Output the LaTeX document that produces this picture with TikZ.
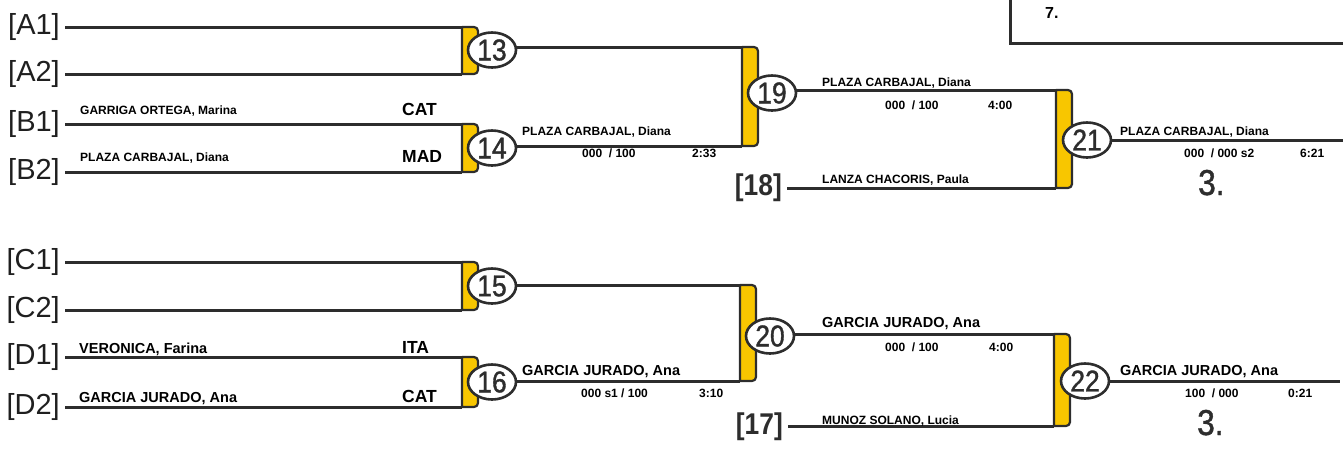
\documentclass[tikz,border=0pt]{standalone}
\usepackage{fontspec}
\setmainfont{Liberation Sans}
\newfontfamily\condfont[FakeStretch=0.88]{Liberation Sans}
\newfontfamily\numfont[FakeStretch=0.88, FakeBold=1.2]{Liberation Sans}
\usetikzlibrary{shapes.geometric}
\definecolor{dk}{RGB}{45,45,45}
\definecolor{yel}{RGB}{248,198,0}
\tikzset{
 ln/.style={draw=dk, line width=3},
 bk/.style={draw=dk, fill=yel, line width=2.2, line join=round},
 num/.style={ellipse, draw=dk, fill=white, line width=2.6, minimum width=48, minimum height=35, inner sep=0, font=\numfont\fontsize{30}{30}\selectfont, text=dk},
 lbl/.style={anchor=east, inner sep=0, font=\fontsize{29}{29}\selectfont, text=black!88},
 seed/.style={anchor=east, inner sep=0, font=\condfont\bfseries\fontsize{30}{30}\selectfont, text=dk},
 nm/.style={anchor=base west, inner sep=0, font=\bfseries\fontsize{12}{12}\selectfont},
 nmb/.style={anchor=base west, inner sep=0, font=\bfseries\fontsize{14.5}{14.5}\selectfont},
 ctry/.style={anchor=base west, inner sep=0, font=\bfseries\fontsize{17.5}{17.5}\selectfont},
 sc/.style={anchor=base west, inner sep=0, font=\bfseries\fontsize{12}{12}\selectfont},
 rk/.style={anchor=base west, inner sep=0, font=\numfont\fontsize{36}{36}\selectfont, text=dk},
}
\newcommand\drawbracket[4]{%
 \coordinate (#1t) at (#2,#3);
 \coordinate (#1b) at (#2,#4);
 \draw[bk] (#2,#3) -- ({#2+12},#3) arc[start angle=-90, end angle=0, radius=4] -- ({#2+16},{#4-4}) arc[start angle=0, end angle=90, radius=4] -- (#2,#4) -- cycle;}
\begin{document}
\begin{tikzpicture}[x=1pt,y=-1pt]
\useasboundingbox (0,0) rectangle (1343,450);
% top-right box
\coordinate (boxa) at (1010,0);
\coordinate (boxb) at (1010,43);
\coordinate (boxc) at (1343,43);
\draw[ln] (boxa) -- (boxb) -- (boxc);
\node[anchor=base west, inner sep=0, font=\bfseries\fontsize{16}{16}\selectfont] (seven) at (1045,18) {7.};

% labels
\node[lbl] (A1) at (60,27) {[A1]};
\node[lbl] (A2) at (60,74) {[A2]};
\node[lbl] (B1) at (60,124) {[B1]};
\node[lbl] (B2) at (60,172) {[B2]};
\node[lbl] (C1) at (60,262) {[C1]};
\node[lbl] (C2) at (60,310) {[C2]};
\node[lbl] (D1) at (60,357) {[D1]};
\node[lbl] (D2) at (60,407) {[D2]};
\node[seed] (S18) at (782,188) {[18]};
\node[seed] (S17) at (783,427) {[17]};

% bracket coordinates
\coordinate (b13t) at (462,27); \coordinate (b13b) at (462,74);
\coordinate (b14t) at (462,124); \coordinate (b14b) at (462,172);
\coordinate (b15t) at (462,262); \coordinate (b15b) at (462,310);
\coordinate (b16t) at (462,357); \coordinate (b16b) at (462,407);
\coordinate (b19t) at (742,47); \coordinate (b19b) at (742,146);
\coordinate (b20t) at (740,285); \coordinate (b20b) at (740,381);
\coordinate (b21t) at (1056,90); \coordinate (b21b) at (1056,188);
\coordinate (b22t) at (1054,334); \coordinate (b22b) at (1054,426);
\coordinate (e21) at (1343,140);
\coordinate (e22) at (1340,381);

% circle centres
\path (492,50) coordinate (p13) (492,148) coordinate (p14)
      (492,286) coordinate (p15) (492,382) coordinate (p16)
      (772,93) coordinate (p19) (770,336) coordinate (p20)
      (1087,140) coordinate (p21) (1085,381) coordinate (p22);

% entry lines
\draw[ln] ([xshift=5pt]A1.east) -- (b13t);
\draw[ln] ([xshift=5pt]A2.east) -- (b13b);
\draw[ln] ([xshift=5pt]B1.east) -- (b14t);
\draw[ln] ([xshift=5pt]B2.east) -- (b14b);
\draw[ln] ([xshift=5pt]C1.east) -- (b15t);
\draw[ln] ([xshift=5pt]C2.east) -- (b15b);
\draw[ln] ([xshift=5pt]D1.east) -- (b16t);
\draw[ln] ([xshift=5pt]D2.east) -- (b16b);
\draw[ln] ([xshift=5pt]S18.east |- b21b) -- (b21b);
\draw[ln] ([xshift=5pt]S17.east |- b22b) -- (b22b);
% winner lines
\draw[ln] (p13 |- b19t) -- (b19t);
\draw[ln] (p14 |- b19b) -- (b19b);
\draw[ln] (p15 |- b20t) -- (b20t);
\draw[ln] (p16 |- b20b) -- (b20b);
\draw[ln] (p19 |- b21t) -- (b21t);
\draw[ln] (p20 |- b22t) -- (b22t);
\draw[ln] (p21) -- (e21);
\draw[ln] (p22) -- (e22);

% brackets
\drawbracket{k13}{462}{27}{74}
\drawbracket{k14}{462}{124}{172}
\drawbracket{k15}{462}{262}{310}
\drawbracket{k16}{462}{357}{407}
\drawbracket{k19}{742}{47}{146}
\drawbracket{k20}{740}{285}{381}
\drawbracket{k21}{1056}{90}{188}
\drawbracket{k22}{1054}{334}{426}

% match circles
\node[num] (n13) at (p13) {13};
\node[num] (n14) at (p14) {14};
\node[num] (n15) at (p15) {15};
\node[num] (n16) at (p16) {16};
\node[num] (n19) at (p19) {19};
\node[num] (n20) at (p20) {20};
\node[num] (n21) at (p21) {21};
\node[num] (n22) at (p22) {22};

% names top
\node[nm] (t1) at (80,114) {GARRIGA ORTEGA, Marina};
\node[ctry] (t2) at (402,115) {CAT};
\node[nm] (t3) at (80,161) {PLAZA CARBAJAL, Diana};
\node[ctry] (t4) at (402,162) {MAD};
\node[nm] (t5) at (522,135) {PLAZA CARBAJAL, Diana};
\node[sc] (t6) at (582,157) {000\ \ / 100};
\node[sc] (t7) at (692,157) {2:33};
\node[nm] (t8) at (822,86) {PLAZA CARBAJAL, Diana};
\node[sc] (t9) at (885,109) {000\ \ / 100};
\node[sc] (t10) at (988,109) {4:00};
\node[nm] (t11) at (822,183) {LANZA CHACORIS, Paula};
\node[nm] (t12) at (1120,135) {PLAZA CARBAJAL, Diana};
\node[sc] (t13) at (1184,157) {000\ \ / 000 s2};
\node[sc] (t14) at (1300,157) {6:21};
\node[rk] (t15) at (1198,195) {3.};

% names bottom
\node[nmb] (u1) at (79,353) {VERONICA, Farina};
\node[ctry] (u2) at (402,353) {ITA};
\node[nmb] (u3) at (79,402) {GARCIA JURADO, Ana};
\node[ctry] (u4) at (402,402) {CAT};
\node[nmb] (u5) at (522,375) {GARCIA JURADO, Ana};
\node[sc] (u6) at (581,397) {000 s1 / 100};
\node[sc] (u7) at (699,397) {3:10};
\node[nmb] (u8) at (822,327) {GARCIA JURADO, Ana};
\node[sc] (u9) at (885,351) {000\ \ / 100};
\node[sc] (u10) at (989,351) {4:00};
\node[nm] (u11) at (822,424) {MUNOZ SOLANO, Lucia};
\node[nmb] (u12) at (1120,375) {GARCIA JURADO, Ana};
\node[sc] (u13) at (1185,397) {100\ \ / 000};
\node[sc] (u14) at (1288,397) {0:21};
\node[rk] (u15) at (1197,435) {3.};
\end{tikzpicture}
\end{document}
